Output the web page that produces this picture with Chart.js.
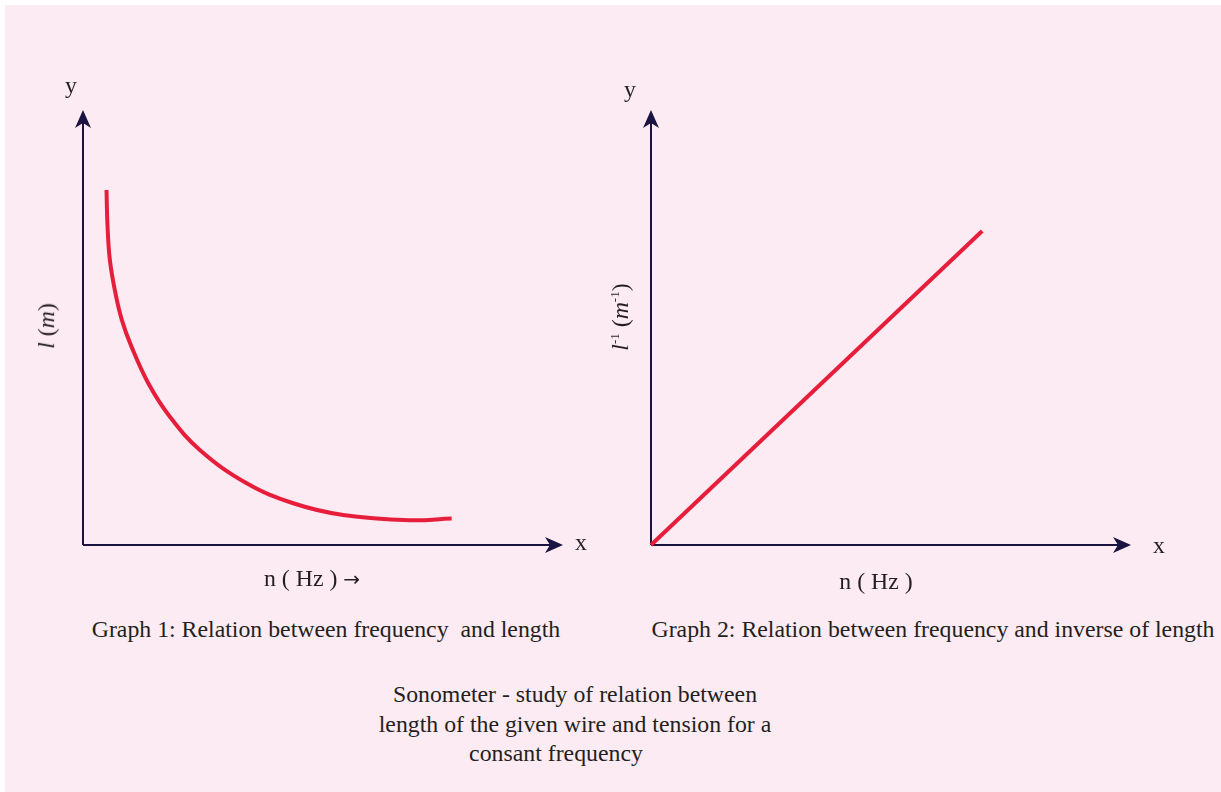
<!DOCTYPE html>
<html>
<head>
<meta charset="utf-8">
<script src="https://cdn.jsdelivr.net/npm/chart.js@4.4.1/dist/chart.umd.min.js"></script>
<style>
  html, body { margin: 0; padding: 0; background: #ffffff; }
  #page { position: absolute; left: 5px; top: 5px; width: 1216px; height: 787px; background: #fcebf3; overflow: hidden; }
  canvas { position: absolute; }
  .t { position: absolute; font-family: "Liberation Serif", "DejaVu Serif", serif; color: #231f20; font-size: 23.8px; white-space: pre; line-height: 1; }
  .c { transform: translate(-50%, -50%); }
  .r { transform: translate(-50%, -50%) rotate(-90deg); }
  i { font-style: italic; }
  sup { font-size: 13px; vertical-align: 9px; line-height: 0; }
  .arr { font-family: "DejaVu Sans", sans-serif; font-size: 20px; }
</style>
</head>
<body>
<div id="page">
  <canvas id="c1"></canvas>
  <canvas id="c2"></canvas>
</div>
<script>
// ---- data ----
const graph1X = [4.9, 5.1, 5.6, 6.7, 8.1, 10.1, 13.6, 18.1, 24.4, 34.1, 43.8, 54.2, 68.1, 76.8];
const graph1Y = [81.6, 73.6, 65.5, 58.2, 51.7, 45.6, 37.2, 29.5, 21.8, 14.2, 9.6, 6.9, 5.7, 6.1];
const graph2X = [0, 69.0];
const graph2Y = [0, 72.2];
const axisMin = 0, axisMax = 100;

const labels = {
  yAxis: "y", xAxis: "x",
  g1XTitle: "n ( Hz ) <span class='arr'>→</span>", g2XTitle: "n ( Hz )",
  g1Caption: "Graph 1: Relation between frequency  and length",
  g2Caption: "Graph 2: Relation between frequency and inverse of length",
  main: ["Sonometer - study of relation between", "length of the given wire and tension for a", "consant frequency"]
};

const AXIS_COLOR = "#1b1340";
const LINE_COLOR = "#e61e3c";

const page = document.getElementById("page");
function addText(html, x, y, cls) {
  const d = document.createElement("div");
  d.className = "t " + cls;
  d.style.left = (x - 5) + "px";
  d.style.top = (y - 5) + "px";
  d.innerHTML = html;
  page.appendChild(d);
  return d;
}

const axesPlugin = {
  id: "arrowAxes",
  beforeDatasetsDraw(chart) {
    const ctx = chart.ctx;
    const xs = chart.scales.x, ys = chart.scales.y;
    const ox = xs.getPixelForValue(axisMin), oy = ys.getPixelForValue(axisMin);
    const tx = xs.getPixelForValue(axisMax), ty = ys.getPixelForValue(axisMax);
    ctx.save();
    ctx.strokeStyle = AXIS_COLOR;
    ctx.fillStyle = AXIS_COLOR;
    ctx.lineWidth = 2;
    ctx.beginPath();
    ctx.moveTo(ox, oy); ctx.lineTo(ox, ty + 10);
    ctx.moveTo(ox, oy); ctx.lineTo(tx - 10, oy);
    ctx.stroke();
    const L = 18, W = 8, N = 5;
    ctx.beginPath();
    ctx.moveTo(ox, ty);
    ctx.lineTo(ox - W, ty + L);
    ctx.lineTo(ox, ty + L - N);
    ctx.lineTo(ox + W, ty + L);
    ctx.closePath();
    ctx.fill();
    ctx.beginPath();
    ctx.moveTo(tx, oy);
    ctx.lineTo(tx - L, oy - W);
    ctx.lineTo(tx - L + N, oy);
    ctx.lineTo(tx - L, oy + W);
    ctx.closePath();
    ctx.fill();
    ctx.restore();
  }
};

function makeChart(id, left, top, w, h, pad, xs, ys, tension) {
  const cv = document.getElementById(id);
  cv.style.left = (left - 5) + "px";
  cv.style.top = (top - 5) + "px";
  cv.style.width = w + "px";
  cv.style.height = h + "px";
  cv.width = w; cv.height = h;
  return new Chart(cv, {
    type: "line",
    data: {
      datasets: [{
        data: xs.map((x, i) => ({ x: x, y: ys[i] })),
        borderColor: LINE_COLOR,
        borderWidth: 4,
        pointRadius: 0,
        tension: tension,
        fill: false,
        clip: false,
        borderCapStyle: "butt"
      }]
    },
    options: {
      responsive: false,
      animation: false,
      events: [],
      layout: { padding: pad },
      plugins: { legend: { display: false }, tooltip: { enabled: false } },
      scales: {
        x: { type: "linear", min: axisMin, max: axisMax, display: false },
        y: { type: "linear", min: axisMin, max: axisMax, display: false }
      }
    },
    plugins: [axesPlugin]
  });
}

makeChart("c1", 5, 5, 605, 595, { left: 78, right: 605 - 558, top: 105, bottom: 595 - 540 }, graph1X, graph1Y, 0.4);
makeChart("c2", 610, 5, 605, 595, { left: 41, right: 605 - 521, top: 105, bottom: 595 - 540 }, graph2X, graph2Y, 0);

addText(labels.yAxis, 71, 86, "c");
addText(labels.yAxis, 630, 90, "c");
addText(labels.xAxis, 581, 543, "c");
addText(labels.xAxis, 1159, 546, "c");
addText("<i>l</i> (<i>m</i>)", 47, 326, "r");
addText("<i>l</i><sup>-1</sup> (<i>m</i><sup>-1</sup>)", 621, 317, "r");
addText(labels.g1XTitle, 312, 579, "c");
addText(labels.g2XTitle, 876, 582, "c");
addText(labels.g1Caption, 326, 630, "c");
addText(labels.g2Caption, 933, 630, "c");
addText(labels.main[0], 575, 695, "c");
addText(labels.main[1], 575, 725, "c");
addText(labels.main[2], 556, 754, "c");
</script>
</body>
</html>
